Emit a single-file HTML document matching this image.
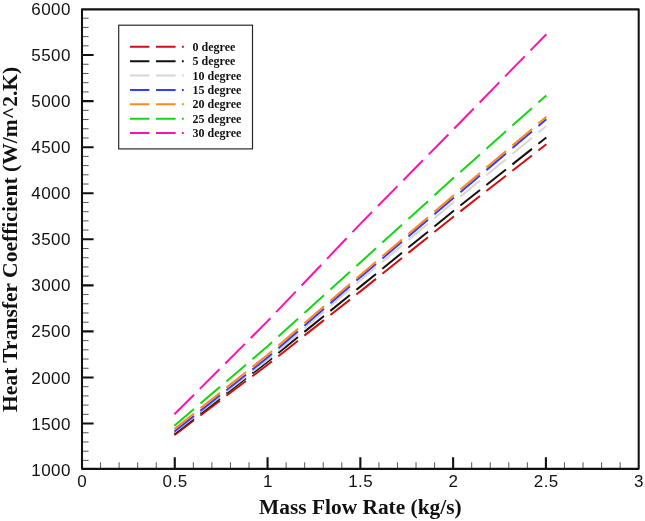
<!DOCTYPE html>
<html><head><meta charset="utf-8"><title>Heat Transfer Coefficient vs Mass Flow Rate</title>
<style>html,body{margin:0;padding:0;background:#fff}svg{display:block}.t{font-family:"Liberation Sans",Arial,sans-serif;font-size:17px;fill:#111}.b{font-family:"Liberation Serif","Times New Roman",serif;font-weight:bold;fill:#111}</style></head><body>
<svg width="645" height="521" viewBox="0 0 645 521">
<rect width="645" height="521" fill="#fff"/>
<path d="M100.56 468.85v-6.6M119.11 468.85v-6.6M137.67 468.85v-6.6M156.23 468.85v-6.6M193.34 468.85v-6.6M211.90 468.85v-6.6M230.45 468.85v-6.6M249.01 468.85v-6.6M286.12 468.85v-6.6M304.68 468.85v-6.6M323.24 468.85v-6.6M341.79 468.85v-6.6M378.91 468.85v-6.6M397.46 468.85v-6.6M416.02 468.85v-6.6M434.58 468.85v-6.6M471.69 468.85v-6.6M490.25 468.85v-6.6M508.80 468.85v-6.6M527.36 468.85v-6.6M564.47 468.85v-6.6M583.03 468.85v-6.6M601.59 468.85v-6.6M620.14 468.85v-6.6M82.00 460.39h6.6M82.00 451.18h6.6M82.00 441.96h6.6M82.00 432.75h6.6M82.00 414.33h6.6M82.00 405.12h6.6M82.00 395.90h6.6M82.00 386.69h6.6M82.00 368.27h6.6M82.00 359.06h6.6M82.00 349.84h6.6M82.00 340.63h6.6M82.00 322.21h6.6M82.00 313.00h6.6M82.00 303.78h6.6M82.00 294.57h6.6M82.00 276.15h6.6M82.00 266.94h6.6M82.00 257.72h6.6M82.00 248.51h6.6M82.00 230.09h6.6M82.00 220.88h6.6M82.00 211.66h6.6M82.00 202.45h6.6M82.00 184.03h6.6M82.00 174.82h6.6M82.00 165.60h6.6M82.00 156.39h6.6M82.00 137.97h6.6M82.00 128.76h6.6M82.00 119.54h6.6M82.00 110.33h6.6M82.00 91.91h6.6M82.00 82.70h6.6M82.00 73.48h6.6M82.00 64.27h6.6M82.00 45.85h6.6M82.00 36.64h6.6M82.00 27.42h6.6M82.00 18.21h6.6" stroke="#555" stroke-width="1" fill="none"/>
<path d="M174.78 468.85v-11.6M267.57 468.85v-11.6M360.35 468.85v-11.6M453.13 468.85v-11.6M545.92 468.85v-11.6M82.00 423.54h11.6M82.00 377.48h11.6M82.00 331.42h11.6M82.00 285.36h11.6M82.00 239.30h11.6M82.00 193.24h11.6M82.00 147.18h11.6M82.00 101.12h11.6M82.00 55.06h11.6" stroke="#111" stroke-width="2.1" fill="none"/>
<rect x="82.0" y="9.35" width="556.70" height="459.50" fill="none" stroke="#111" stroke-width="2.05" stroke-linejoin="round"/>
<text class="t" x="31.23 41.14 51.04 60.95" y="475.65">1000</text>
<text class="t" x="31.23 41.14 51.04 60.95" y="429.59">1500</text>
<text class="t" x="31.23 41.14 51.04 60.95" y="383.53">2000</text>
<text class="t" x="31.23 41.14 51.04 60.95" y="337.47">2500</text>
<text class="t" x="31.23 41.14 51.04 60.95" y="291.41">3000</text>
<text class="t" x="31.23 41.14 51.04 60.95" y="245.35">3500</text>
<text class="t" x="31.23 41.14 51.04 60.95" y="199.29">4000</text>
<text class="t" x="31.23 41.14 51.04 60.95" y="153.23">4500</text>
<text class="t" x="31.23 41.14 51.04 60.95" y="107.17">5000</text>
<text class="t" x="31.23 41.14 51.04 60.95" y="61.11">5500</text>
<text class="t" x="31.23 41.14 51.04 60.95" y="15.05">6000</text>
<text class="t" x="77.37" y="487.40">0</text>
<text class="t" x="162.62 172.52 177.69" y="487.40">0.5</text>
<text class="t" x="262.94" y="487.40">1</text>
<text class="t" x="348.18 358.09 363.26" y="487.40">1.5</text>
<text class="t" x="448.51" y="487.40">2</text>
<text class="t" x="533.75 543.66 548.83" y="487.40">2.5</text>
<text class="t" x="634.07" y="487.40">3</text>
<text class="b" font-size="21.4" x="360.4" y="513.8" text-anchor="middle">Mass Flow Rate (kg/s)</text>
<text class="b" font-size="21.55" transform="translate(17.2 239.35) rotate(-90)" text-anchor="middle">Heat Transfer Coefficient (W/m^2.K)</text>
<path d="M174.38 435.08L193.98 420.28M200.38 415.45L219.98 400.65M226.38 395.81L245.98 381.01M252.38 376.18L267.57 364.71L271.98 361.23M278.38 356.17L297.98 340.68M304.38 335.63L323.98 320.14M330.38 315.09L349.98 299.60M356.38 294.54L360.35 291.41L375.98 278.87M382.38 273.74L401.98 258.02M408.38 252.89L427.98 237.17M434.38 232.04L453.13 217.00L453.98 216.34M460.38 211.34L479.98 196.04M486.38 191.04L505.98 175.74M512.38 170.74L531.98 155.44M538.38 150.44L546.32 144.25" stroke="#d01010" stroke-width="2" fill="none"/>
<path d="M174.38 433.52L193.98 418.41M200.38 413.47L219.98 398.36M226.38 393.43L245.98 378.32M252.38 373.39L267.57 361.68L271.98 358.11M278.38 352.93L297.98 337.08M304.38 331.90L323.98 316.05M330.38 310.87L349.98 295.02M356.38 289.84L360.35 286.63L375.98 273.93M382.38 268.72L401.98 252.79M408.38 247.59L427.98 231.66M434.38 226.46L453.13 211.22L453.98 210.54M460.38 205.48L479.98 189.99M486.38 184.93L505.98 169.43M512.38 164.37L531.98 148.88M538.38 143.82L546.32 137.54" stroke="#111111" stroke-width="2" fill="none"/>
<path d="M174.38 432.42L193.98 417.19M200.38 412.22L219.98 396.99M226.38 392.02L245.98 376.80M252.38 371.82L267.57 360.03L271.98 356.24M278.38 350.74L297.98 333.92M304.38 328.43L323.98 311.60M330.38 306.11L349.98 289.29M356.38 283.79L360.35 280.39L375.98 267.28M382.38 261.91L401.98 245.47M408.38 240.11L427.98 223.67M434.38 218.30L453.13 202.58L453.98 201.88M460.38 196.63L479.98 180.53M486.38 175.28L505.98 159.18M512.38 153.93L531.98 137.83M538.38 132.58L546.32 126.06" stroke="#d6d6d6" stroke-width="2" fill="none"/>
<path d="M174.38 431.50L193.98 415.94M200.38 410.86L219.98 395.31M226.38 390.23L245.98 374.68M252.38 369.60L267.57 357.55L271.98 353.72M278.38 348.18L297.98 331.20M304.38 325.66L323.98 308.68M330.38 303.13L349.98 286.15M356.38 280.61L360.35 277.17L375.98 263.89M382.38 258.46L401.98 241.81M408.38 236.37L427.98 219.72M434.38 214.28L453.13 198.36L453.98 197.63M460.38 192.20L479.98 175.57M486.38 170.13L505.98 153.50M512.38 148.07L531.98 131.43M538.38 126.00L546.32 119.26" stroke="#3a3afa" stroke-width="2" fill="none"/>
<path d="M174.38 429.11L193.98 413.48M200.38 408.37L219.98 392.74M226.38 387.64L245.98 372.01M252.38 366.90L267.57 354.79L271.98 351.00M278.38 345.50L297.98 328.65M304.38 323.15L323.98 306.31M330.38 300.81L349.98 283.97M356.38 278.47L360.35 275.06L375.98 261.69M382.38 256.21L401.98 239.45M408.38 233.97L427.98 217.21M434.38 211.73L453.13 195.69L453.98 194.97M460.38 189.56L479.98 172.98M486.38 167.57L505.98 150.99M512.38 145.58L531.98 129.00M538.38 123.59L546.32 116.88" stroke="#ff8a18" stroke-width="2" fill="none"/>
<path d="M174.38 425.71L193.98 409.02M200.38 403.56L219.98 386.87M226.38 381.42L245.98 364.73M252.38 359.27L267.57 346.34L271.98 342.35M278.38 336.57L297.98 318.85M304.38 313.06L323.98 295.35M330.38 289.56L349.98 271.84M356.38 266.06L360.35 262.47L375.98 248.30M382.38 242.49L401.98 224.72M408.38 218.91L427.98 201.14M434.38 195.33L453.13 178.33L453.98 177.57M460.38 171.88L479.98 154.43M486.38 148.73L505.98 131.28M512.38 125.59L531.98 108.14M538.38 102.44L546.32 95.38" stroke="#14d614" stroke-width="2" fill="none"/>
<path d="M174.38 414.32L193.98 394.73M199.82 388.89L219.42 369.30M225.26 363.46L244.86 343.87M250.70 338.03L267.57 321.17L270.30 318.30M276.14 312.18L295.74 291.63M301.58 285.51L321.18 264.96M327.02 258.83L346.62 238.28M352.46 232.16L360.35 223.89L372.06 211.99M377.90 206.06L397.50 186.15M403.34 180.22L422.94 160.31M428.78 154.38L448.38 134.47M454.22 128.53L473.82 108.45M479.66 102.47L499.26 82.40M505.10 76.41L524.70 56.34M530.54 50.36L546.32 34.20" stroke="#ff12ae" stroke-width="2" fill="none"/>
<rect x="118.7" y="25.2" width="133.8" height="123.7" fill="#fff" stroke="#222" stroke-width="1.15"/>
<path d="M130 46.80h19.4M156 46.80h19.6M181.9 46.80h1.9" stroke="#d01010" stroke-width="2" fill="none"/>
<text class="b" font-size="12" x="192.6" y="50.80">0 degree</text>
<path d="M130 61.17h19.4M156 61.17h19.6M181.9 61.17h1.9" stroke="#111111" stroke-width="2" fill="none"/>
<text class="b" font-size="12" x="192.6" y="65.17">5 degree</text>
<path d="M130 75.54h19.4M156 75.54h19.6M181.9 75.54h1.9" stroke="#d6d6d6" stroke-width="2" fill="none"/>
<text class="b" font-size="12" x="192.6" y="79.54">10 degree</text>
<path d="M130 89.91h19.4M156 89.91h19.6M181.9 89.91h1.9" stroke="#3a3afa" stroke-width="2" fill="none"/>
<text class="b" font-size="12" x="192.6" y="93.91">15 degree</text>
<path d="M130 104.28h19.4M156 104.28h19.6M181.9 104.28h1.9" stroke="#ff8a18" stroke-width="2" fill="none"/>
<text class="b" font-size="12" x="192.6" y="108.28">20 degree</text>
<path d="M130 118.65h19.4M156 118.65h19.6M181.9 118.65h1.9" stroke="#14d614" stroke-width="2" fill="none"/>
<text class="b" font-size="12" x="192.6" y="122.65">25 degree</text>
<path d="M130 133.02h19.4M156 133.02h19.6M181.9 133.02h1.9" stroke="#ff12ae" stroke-width="2" fill="none"/>
<text class="b" font-size="12" x="192.6" y="137.02">30 degree</text>
</svg></body></html>
